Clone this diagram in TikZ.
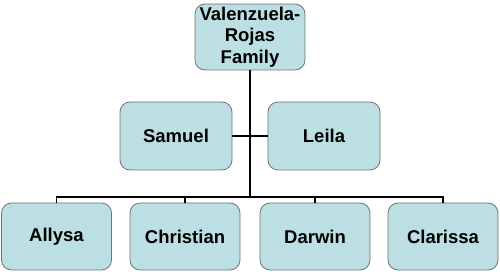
\documentclass[tikz,border=0pt]{standalone}
\usepackage{fontspec}
\setmainfont{Liberation Sans}
\usetikzlibrary{calc}
\definecolor{boxfill}{RGB}{187,223,226}
\definecolor{boxline}{RGB}{115,115,115}
\tikzset{
  member/.style={draw=boxline, line width=0.8pt, fill=boxfill, rounded corners=10pt,
    minimum width=110pt, minimum height=67pt, inner sep=0pt, align=center,
    font=\fontsize{18.5}{21.5}\selectfont\bfseries},
  link/.style={draw=black, line width=1.4pt}
}
\begin{document}
\begin{tikzpicture}[x={(1pt,0)},y={(0,-1pt)}]
        \useasboundingbox (0,0) rectangle (500,272);

        \node [member, minimum height=66pt](fam) at (250,37){Valenzuela-\\Rojas\\Family};
        \node [member, minimum width=112pt, minimum height=68pt](sam) at (176,136){Samuel};
        \node [member, minimum width=112pt, minimum height=68pt](lei) at (324,136){Leila};
        \node [member](aly) at (56.5,236.5){Allysa};
        \node [member](chr) at (185,236.5){Christian};
        \node [member](dar) at (315,236.5){Darwin};
        \node [member](cla) at (443,236.5){Clarissa};
        \coordinate (split) at (250,197);

        \draw [link] (fam.south) -- (split);
        \draw [link] (sam.east) -- (lei.west);
        \draw [link] (aly.north) |- (split) -| (cla.north);
        \draw [link] (chr.north) -- (chr.north |- split);
        \draw [link] (dar.north) -- (dar.north |- split);
      \end{tikzpicture}
\end{document}
